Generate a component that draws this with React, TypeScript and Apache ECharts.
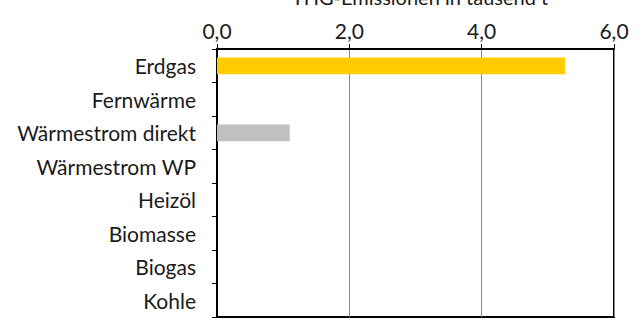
import React, { useEffect, useRef } from "react";
import * as echarts from "echarts";

const categories = ["Erdgas", "Fernwärme", "Wärmestrom direkt", "Wärmestrom WP", "Heizöl", "Biomasse", "Biogas", "Kohle"];
const values = [5.26, 0, 1.1, 0, 0, 0, 0, 0];
const barColors = ["#FFCC00", "#FFCC00", "#C0C0C0", "#C0C0C0", "#C0C0C0", "#C0C0C0", "#C0C0C0", "#C0C0C0"];
const titleText = "THG-Emissionen in tausend t";

export default function App() {
  const ref = useRef<HTMLDivElement>(null);
  useEffect(() => {
    document.body.style.margin = "0";
    const chart = echarts.init(ref.current!, null, { renderer: "svg" });
    const font = "Lato";
    chart.setOption({
      animation: false,
      title: {
        text: titleText,
        left: 415,
        textAlign: "center",
        top: -18,
        textStyle: { fontFamily: font, fontSize: 20, fontWeight: "normal", color: "#1a1a1a" },
      },
      grid: { left: 217, right: 29, top: 49, bottom: 3, show: true, borderColor: "#000", borderWidth: 2, backgroundColor: "transparent" },
      xAxis: {
        type: "value",
        position: "top",
        min: 0,
        max: 6,
        interval: 2,
        axisLine: { show: true, lineStyle: { color: "#000", width: 2 } },
        axisTick: { show: true, inside: false, length: 5, lineStyle: { color: "#000" } },
        axisLabel: {
          formatter: (v: number) => v.toFixed(1).replace(".", ","),
          fontFamily: font,
          fontSize: 21,
          color: "#1a1a1a",
          margin: 8,
        },
        splitLine: { show: true, lineStyle: { color: "#888", width: 1 } },
      },
      yAxis: {
        type: "category",
        data: categories,
        inverse: true,
        axisLine: { show: true, lineStyle: { color: "#000", width: 2 } },
        axisTick: { show: true, length: 5, lineStyle: { color: "#000" } },
        axisLabel: { fontFamily: font, fontSize: 21, color: "#1a1a1a", margin: 21 },
      },
      series: [
        {
          type: "bar",
          data: values.map((v, i) => ({ value: v, itemStyle: { color: barColors[i] } })),
          barWidth: "50%",
        },
      ],
    });
    return () => chart.dispose();
  }, []);
  return <div ref={ref} style={{ width: 643, height: 320 }} />;
}
